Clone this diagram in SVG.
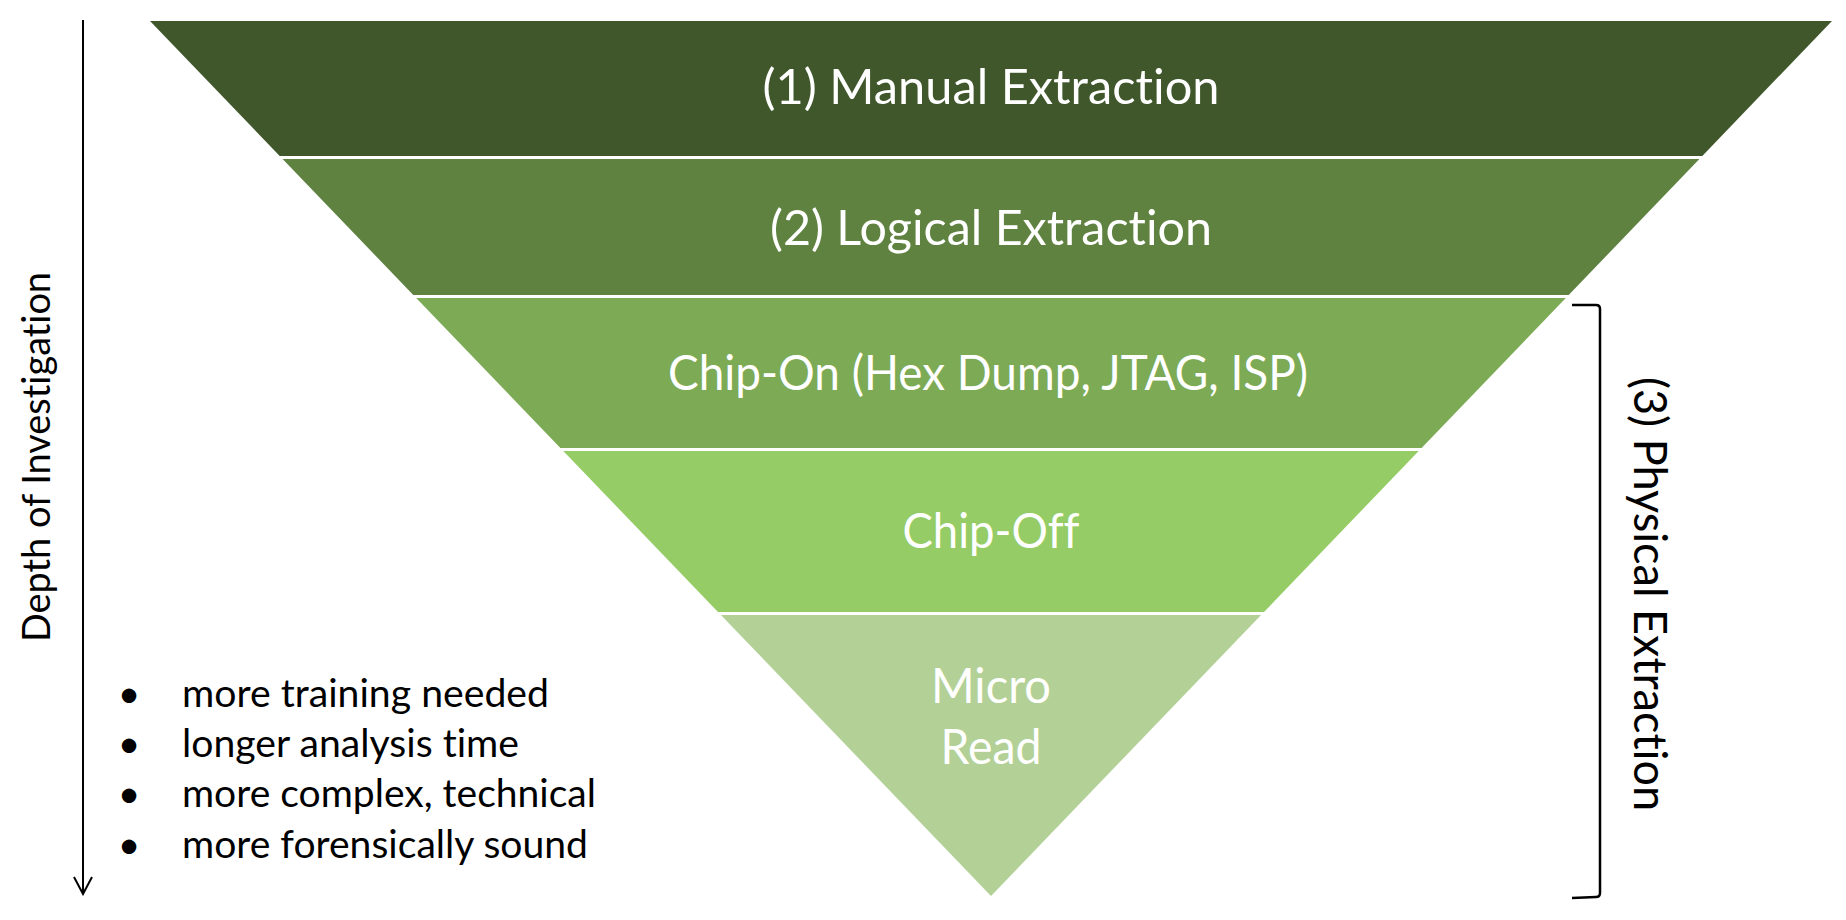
<svg xmlns="http://www.w3.org/2000/svg" width="1846" height="920" viewBox="0 0 1846 920">
  <style>
    text { font-variant-ligatures: none; font-feature-settings: "liga" 0, "clig" 0; }
    .lbl { font-family: Lato, "Open Sans", "Liberation Sans", sans-serif; fill: #ffffff; font-size: 48px; text-anchor: middle; }
    .side { font-family: Lato, "Open Sans", "Liberation Sans", sans-serif; fill: #000000; text-anchor: middle; }
    .bul { font-family: Lato, "Open Sans", "Liberation Sans", sans-serif; fill: #000000; font-size: 39px; }
    .ln { fill: none; stroke: #000000; stroke-width: 2.5; }
  </style>
  <defs>
    <marker id="vhead" viewBox="0 0 20 20" refX="18" refY="10" markerWidth="20" markerHeight="20" markerUnits="userSpaceOnUse" orient="auto">
      <path d="M1,1 L18,10 L1,19" fill="none" stroke="#000000" stroke-width="2"/>
    </marker>
  </defs>
  <rect x="0" y="0" width="1846" height="920" fill="#ffffff"/>

  <g id="band-manual">
    <polygon points="150,21 1832,21 1702.3,156 279.7,156" fill="#3F572B"/>
    <text class="lbl" x="991" y="104" textLength="457" lengthAdjust="spacingAndGlyphs">(1) Manual Extraction</text>
  </g>
  <g id="band-logical">
    <polygon points="282.6,159 1699.4,159 1568.7,295 413.3,295" fill="#5F8241"/>
    <text class="lbl" x="991" y="245" textLength="442" lengthAdjust="spacingAndGlyphs">(2) Logical Extraction</text>
  </g>
  <g id="band-chipon">
    <polygon points="416.2,298 1565.8,298 1421.6,448 560.4,448" fill="#7DAA55"/>
    <text class="lbl" x="988" y="390" textLength="640" lengthAdjust="spacingAndGlyphs">Chip-On (Hex Dump, JTAG, ISP)</text>
  </g>
  <g id="band-chipoff">
    <polygon points="563.3,451 1418.7,451 1264,612 718,612" fill="#95CC66"/>
    <text class="lbl" x="991" y="548" textLength="177" lengthAdjust="spacingAndGlyphs">Chip-Off</text>
  </g>
  <g id="band-microread">
    <polygon points="720.9,615 1261.1,615 991,896" fill="#B3D197"/>
    <text class="lbl" x="991" y="703" textLength="120" lengthAdjust="spacingAndGlyphs">Micro</text>
    <text class="lbl" x="991" y="764" textLength="101" lengthAdjust="spacingAndGlyphs">Read</text>
  </g>

  <g id="depth-label">
    <text class="side" font-size="39" transform="translate(50,457) rotate(-90)" textLength="370" lengthAdjust="spacingAndGlyphs">Depth of Investigation</text>
  </g>

  <g id="physical-bracket">
    <path class="ln" d="M1572,305 L1596,305 Q1600,305 1600,309 L1600,893 Q1600,897 1596,897 L1572,898"/>
    <text class="side" font-size="46" transform="translate(1634,594) rotate(90)" textLength="434" lengthAdjust="spacingAndGlyphs">(3) Physical Extraction</text>
  </g>

  <g id="bullets">
    <text class="bul" x="129" y="707" text-anchor="middle">•</text>
    <text class="bul" x="182" y="707" textLength="367" lengthAdjust="spacingAndGlyphs">more training needed</text>
    <text class="bul" x="129" y="757" text-anchor="middle">•</text>
    <text class="bul" x="182" y="757" textLength="337" lengthAdjust="spacingAndGlyphs">longer analysis time</text>
    <text class="bul" x="129" y="807" text-anchor="middle">•</text>
    <text class="bul" x="182" y="807" textLength="414" lengthAdjust="spacingAndGlyphs">more complex, technical</text>
    <text class="bul" x="129" y="858" text-anchor="middle">•</text>
    <text class="bul" x="182" y="858" textLength="406" lengthAdjust="spacingAndGlyphs">more forensically sound</text>
  </g>

  <g id="connectors">
    <path d="M83,20 L83,894" fill="none" stroke="#000000" stroke-width="2" marker-end="url(#vhead)"/>
  </g>
</svg>
